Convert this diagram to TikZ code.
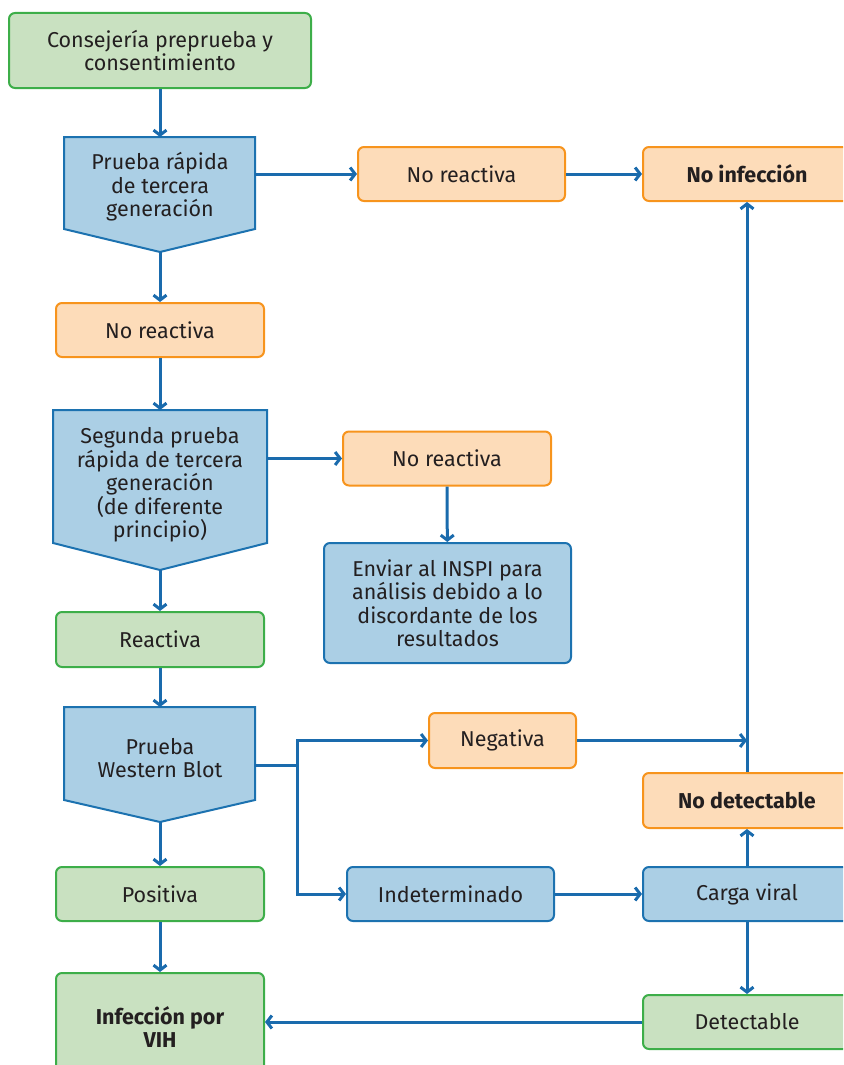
\documentclass[tikz,border=0pt]{standalone}
\usepackage{fontspec}
\setmainfont{Fira Sans}
\usetikzlibrary{arrows.meta,calc}
\definecolor{gfill}{HTML}{C9E1C1}
\definecolor{gline}{HTML}{3DAE49}
\definecolor{bfill}{HTML}{ABCFE5}
\definecolor{bline}{HTML}{1C72B0}
\definecolor{ofill}{HTML}{FDDCB9}
\definecolor{oline}{HTML}{F7941D}
\definecolor{arr}{HTML}{1A6BAD}
\definecolor{txt}{HTML}{231F20}
\tikzset{
  box/.style={rounded corners=6pt, line width=2pt, align=center, inner sep=0pt,
    text=txt, font=\fontsize{21.5}{23.5}\selectfont},
  gbox/.style={box, draw=gline, fill=gfill},
  bbox/.style={box, draw=bline, fill=bfill},
  obox/.style={box, draw=oline, fill=ofill},
  pent/.style={draw=bline, fill=bfill, line width=2pt},
  ptext/.style={align=center, inner sep=0pt, text=txt, font=\fontsize{21.5}{23.5}\selectfont},
  conn/.style={draw=arr, line width=3pt, -{Straight Barb[length=5pt,width=13pt,line width=3pt]}},
  line/.style={draw=arr, line width=3pt},
}
\begin{document}
\begin{tikzpicture}[x=1pt,y=-1pt]
\useasboundingbox (0,0) rectangle (843,1065);
\clip (0,0) rectangle (843,1065);
% boxes
\node[gbox, minimum width=302, minimum height=75] (cons) at (160,50.5) {Consejería preprueba y\\consentimiento};
\node[obox, minimum width=207, minimum height=54] (nr1) at (461.5,174) {No reactiva};
\node[obox, minimum width=208, minimum height=54] (noinf) at (747,174) {\bfseries No infección};
\node[obox, minimum width=208, minimum height=54] (nr2) at (160,330) {No reactiva};
\node[obox, minimum width=208, minimum height=54] (nr3) at (447,458.5) {No reactiva};
\node[bbox, minimum width=247, minimum height=120] (inspi) at (447.5,603) {Enviar al INSPI para\\análisis debido a lo\\discordante de los\\resultados};
\node[gbox, minimum width=208, minimum height=55] (reac) at (160,639.5) {Reactiva};
\node[obox, minimum width=147, minimum height=55] (neg) at (502.5,740.5) {Negativa};
\node[obox, minimum width=208, minimum height=55] (nodet) at (747,800.5) {\bfseries No detectable};
\node[gbox, minimum width=208, minimum height=54] (pos) at (160,894) {Positiva};
\node[bbox, minimum width=207, minimum height=54] (indet) at (450.5,894) {Indeterminado};
\node[bbox, minimum width=208, minimum height=54] (carga) at (747,894) {Carga viral};
\node[gbox, minimum width=208, minimum height=108] (infec) at (160,1027) {\bfseries Infección por\\\bfseries VIH};
\node[gbox, minimum width=208, minimum height=54] (detect) at (747,1022) {Detectable};
% pentagons
\draw[pent] (64,137) -- (255,137) -- (255,229) -- (160,252) -- (64,229) -- cycle;
\node[ptext] (p1) at (160,187) {Prueba rápida\\de tercera\\generación};
\coordinate (p1top) at (160,137);
\coordinate (p1tip) at (160,252);
\coordinate (p1r) at (255,174);
\draw[pent] (53,410) -- (267,410) -- (267,543) -- (160,570) -- (53,543) -- cycle;
\node[ptext] (p2) at (160,485) {Segunda prueba\\rápida de tercera\\generación\\(de diferente\\principio)};
\coordinate (p2top) at (160,410);
\coordinate (p2tip) at (160,570);
\coordinate (p2r) at (267,458.5);
\draw[pent] (64,707) -- (255,707) -- (255,800) -- (160,822) -- (64,800) -- cycle;
\node[ptext] (p3) at (160,758) {Prueba\\Western Blot};
\coordinate (p3top) at (160,707);
\coordinate (p3tip) at (160,822);
\coordinate (p3r) at (255,765);
\coordinate (j) at (297,765);
\coordinate (m) at (747,740.5);
% connectors
\draw[conn] (cons) -- (p1top);
\draw[conn] (p1r) -- (nr1.west);
\draw[conn] (nr1) -- (noinf);
\draw[conn] (p1tip) -- (nr2.north);
\draw[conn] (nr2) -- (p2top);
\draw[conn] (p2r) -- (nr3.west);
\draw[conn] (nr3) -- (inspi);
\draw[conn] (p2tip) -- (reac.north);
\draw[conn] (reac) -- (p3top);
\draw[line] (p3r) -- (j);
\draw[conn] (j) |- (neg.west);
\draw[conn] (j) |- (indet.west);
\draw[conn] (neg.east) -- (m);
\draw[conn] (p3tip) -- (pos.north);
\draw[conn] (pos) -- (infec);
\draw[conn] (indet) -- (carga);
\draw[conn] (carga) -- (nodet);
\draw[conn] (nodet) -- (noinf);
\draw[conn] (carga) -- (detect);
\draw[conn] (detect.west) -- (detect.west -| infec.east);
\end{tikzpicture}
\end{document}
